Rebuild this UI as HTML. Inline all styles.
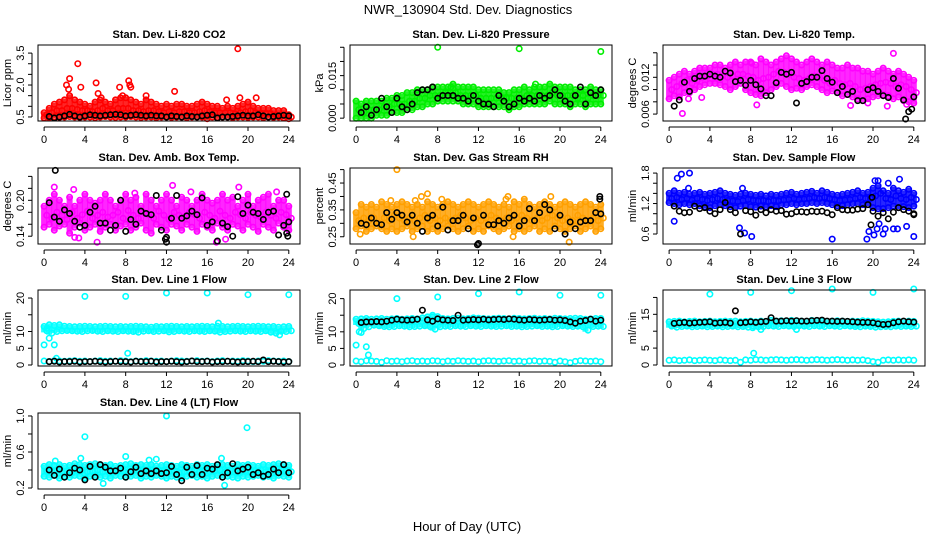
<!DOCTYPE html>
<html><head><meta charset="utf-8">
<style>
html,body{margin:0;padding:0;background:#fff;}
svg{display:block;font-family:"Liberation Sans",sans-serif;}
</style></head>
<body>
<svg id="chart" width="936" height="540" viewBox="0 0 936 540" xmlns="http://www.w3.org/2000/svg">
<rect width="936" height="540" fill="#fff"/>
<text x="468" y="14" font-size="13" text-anchor="middle">NWR_130904  Std. Dev. Diagnostics</text>
<text x="467" y="531" font-size="13" text-anchor="middle">Hour of Day (UTC)</text>
<g id="panels"></g>
</svg>
<script>
// ---------- data (colored bands sampled each 0.5 h from 0 to 24; black each 0.5 h from 0.5) ----------
const xTicks=[0,4,8,12,16,20,24];

const co2Hi=[0.7,0.9,1.1,1.2,1.3,1.5,1.3,1.2,1.1,1.0,1.2,1.3,1.2,1.1,1.3,1.4,1.4,1.3,1.2,1.1,1.3,1.2,1.1,1.0,1.1,1.0,1.1,1.1,1.0,1.0,1.1,1.2,1.1,1.0,1.0,0.9,1.0,0.9,1.0,1.1,1.2,1.0,0.9,0.9,0.9,0.8,0.8,0.8,0.6];
const co2Mid=[0.6,0.7,0.8,0.8,0.9,0.9,0.85,0.8,0.8,0.75,0.8,0.9,0.8,0.8,0.9,0.9,0.9,0.8,0.8,0.75,0.8,0.8,0.75,0.7,0.75,0.7,0.75,0.75,0.7,0.7,0.75,0.8,0.75,0.7,0.7,0.7,0.7,0.65,0.7,0.75,0.8,0.7,0.65,0.65,0.65,0.6,0.6,0.6,0.5];
const co2Lo=[0.45,0.47,0.5,0.48,0.5,0.52,0.5,0.48,0.5,0.5,0.47,0.5,0.52,0.5,0.48,0.5,0.5,0.52,0.5,0.48,0.5,0.5,0.47,0.5,0.5,0.48,0.5,0.5,0.47,0.5,0.5,0.5,0.42,0.5,0.48,0.5,0.5,0.47,0.5,0.5,0.48,0.5,0.5,0.47,0.5,0.48,0.5,0.45,0.42];
const co2Black=[0.52,0.45,0.5,0.55,0.62,0.55,0.5,0.55,0.6,0.58,0.55,0.58,0.6,0.62,0.6,0.55,0.58,0.6,0.58,0.55,0.58,0.55,0.55,0.5,0.55,0.52,0.5,0.55,0.52,0.5,0.55,0.58,0.6,0.45,0.5,0.5,0.52,0.55,0.58,0.55,0.55,0.6,0.55,0.5,0.52,0.55,0.58,0.55];
const co2OutX=[2.2,2.5,3.3,3.6,5.1,5.3,7.4,8.3,8.4,8.5,10,12.8,17.9,19,19.2,20.8,2.4,7.7,5.6];
const co2OutY=[2.0,2.3,3.0,1.9,2.1,1.6,1.9,2.2,2.0,1.9,1.5,1.7,1.3,3.7,1.4,1.4,1.8,1.5,1.4];

const prHi=[0.006,0.005,0.006,0.006,0.006,0.006,0.007,0.007,0.008,0.008,0.009,0.009,0.010,0.010,0.010,0.011,0.011,0.011,0.011,0.012,0.011,0.011,0.011,0.011,0.010,0.010,0.010,0.010,0.010,0.009,0.009,0.010,0.010,0.011,0.010,0.011,0.011,0.011,0.012,0.011,0.011,0.011,0.011,0.010,0.010,0.010,0.011,0.010,0.010];
const prMid=[0.003,0.002,0.003,0.003,0.003,0.004,0.004,0.005,0.005,0.005,0.006,0.006,0.007,0.007,0.008,0.008,0.008,0.009,0.009,0.009,0.008,0.008,0.008,0.008,0.007,0.007,0.007,0.007,0.007,0.007,0.007,0.007,0.007,0.008,0.008,0.008,0.008,0.008,0.009,0.008,0.008,0.008,0.008,0.007,0.008,0.007,0.008,0.008,0.008];
const prLo=[0.000,0.000,0.000,0.000,0.001,0.001,0.001,0.002,0.002,0.002,0.003,0.003,0.004,0.004,0.005,0.005,0.006,0.006,0.006,0.006,0.006,0.005,0.005,0.005,0.004,0.004,0.004,0.004,0.004,0.004,0.003,0.004,0.004,0.005,0.005,0.005,0.005,0.005,0.006,0.005,0.005,0.005,0.004,0.005,0.005,0.004,0.005,0.005,0.005];
const prBlack=[0.002,0.004,0.001,0.003,0.007,0.004,0.002,0.007,0.004,0.003,0.005,0.009,0.010,0.010,0.011,0.007,0.008,0.008,0.008,0.007,0.007,0.006,0.008,0.006,0.005,0.005,0.004,0.008,0.006,0.004,0.005,0.007,0.006,0.007,0.006,0.008,0.007,0.008,0.010,0.008,0.006,0.005,0.008,0.011,0.005,0.009,0.008,0.010];
const prOutX=[8,16,24,17.6,9.3];
const prOutY=[0.025,0.0245,0.0235,0.012,0.011];

const tHi=[0.0115,0.012,0.0125,0.013,0.0125,0.013,0.0135,0.0135,0.0135,0.014,0.014,0.0135,0.014,0.0145,0.014,0.0145,0.0145,0.014,0.015,0.0145,0.014,0.0145,0.015,0.0155,0.015,0.0145,0.014,0.0145,0.015,0.0145,0.014,0.0145,0.014,0.0135,0.0135,0.014,0.0135,0.0135,0.013,0.013,0.0125,0.013,0.0135,0.013,0.0125,0.013,0.0125,0.012,0.0115];
const tMid=[0.0100,0.0105,0.011,0.0115,0.011,0.0115,0.012,0.0122,0.0125,0.0125,0.0122,0.012,0.0122,0.0125,0.0125,0.0122,0.012,0.0115,0.0118,0.012,0.0125,0.013,0.0128,0.0125,0.012,0.0118,0.0115,0.0118,0.0122,0.012,0.0115,0.011,0.0115,0.011,0.0108,0.011,0.0105,0.010,0.0102,0.0105,0.0108,0.011,0.0112,0.011,0.0105,0.0108,0.0105,0.010,0.0095];
const tLo=[0.0085,0.009,0.0088,0.0095,0.0095,0.010,0.0105,0.0108,0.011,0.011,0.0108,0.0105,0.010,0.0105,0.011,0.010,0.0095,0.0092,0.0090,0.0095,0.010,0.0105,0.011,0.0105,0.010,0.0102,0.010,0.0105,0.0108,0.0105,0.010,0.0095,0.0098,0.0095,0.009,0.0092,0.0088,0.0085,0.0082,0.0085,0.0088,0.009,0.0092,0.009,0.0085,0.0088,0.0082,0.008,0.0078];
const tBlack=[0.0073,0.0083,0.0112,0.0097,0.0118,0.0122,0.0122,0.0125,0.0122,0.0120,0.0130,0.0127,0.0113,0.0115,0.0107,0.0115,0.0108,0.0101,0.0090,0.0090,0.0111,0.0128,0.0125,0.0128,0.0078,0.0110,0.0113,0.0120,0.0120,0.0131,0.0118,0.0112,0.0095,0.0105,0.0092,0.0097,0.0082,0.0082,0.0100,0.0103,0.0097,0.0090,0.0087,0.0118,0.0102,0.0083,0.0064,0.0088];
const tOutX=[1.3,8.6,22,8.1,17.8,21.4,23.3,1.9,3.2,19.5];
const tOutY=[0.0061,0.0075,0.0159,0.0143,0.0074,0.0073,0.0076,0.0085,0.0087,0.0078];
const tBlkOutX=[23.2,23.8];
const tBlkOutY=[0.0052,0.0068];

const aHi=[0.19,0.20,0.21,0.20,0.19,0.205,0.19,0.20,0.21,0.20,0.195,0.20,0.21,0.20,0.19,0.20,0.21,0.20,0.205,0.19,0.21,0.20,0.19,0.20,0.21,0.20,0.19,0.205,0.20,0.19,0.20,0.21,0.20,0.195,0.20,0.21,0.20,0.205,0.19,0.20,0.21,0.19,0.20,0.205,0.21,0.19,0.20,0.20,0.19];
const aMid=[0.175,0.17,0.18,0.175,0.168,0.18,0.17,0.176,0.182,0.17,0.175,0.18,0.172,0.175,0.18,0.17,0.183,0.175,0.17,0.18,0.176,0.17,0.182,0.175,0.168,0.18,0.175,0.172,0.18,0.176,0.17,0.18,0.175,0.17,0.182,0.175,0.17,0.18,0.176,0.17,0.18,0.175,0.172,0.18,0.175,0.17,0.18,0.176,0.17];
const aLo=[0.155,0.16,0.15,0.157,0.16,0.145,0.155,0.162,0.15,0.155,0.16,0.148,0.155,0.16,0.15,0.157,0.16,0.15,0.155,0.162,0.15,0.145,0.16,0.155,0.15,0.16,0.157,0.15,0.16,0.155,0.148,0.16,0.155,0.15,0.162,0.155,0.15,0.16,0.157,0.15,0.16,0.155,0.148,0.16,0.155,0.15,0.162,0.155,0.15];
const aBlack=[0.196,0.172,0.165,0.184,0.178,0.165,0.155,0.158,0.180,0.190,0.162,0.162,0.150,0.158,0.200,0.148,0.168,0.160,0.182,0.178,0.176,0.208,0.150,0.138,0.170,0.208,0.170,0.174,0.182,0.176,0.204,0.158,0.164,0.132,0.162,0.156,0.140,0.206,0.178,0.192,0.180,0.178,0.168,0.180,0.182,0.142,0.158,0.164];
const aOutX=[1.0,2.9,5.2,12.6,19.1,3.0,3.4,16.9,17.8,8.9,14.4,22.8];
const aOutY=[0.222,0.218,0.13,0.225,0.222,0.138,0.137,0.13,0.135,0.212,0.214,0.214];
const aBlkOutX=[1.1,11.9,12.0,23.9,23.8,23.8];
const aBlkOutY=[0.25,0.135,0.13,0.14,0.145,0.21];

const rHi=[0.34,0.37,0.36,0.37,0.36,0.38,0.37,0.36,0.37,0.38,0.37,0.36,0.37,0.36,0.38,0.37,0.36,0.37,0.38,0.37,0.36,0.37,0.38,0.37,0.36,0.37,0.38,0.37,0.36,0.37,0.36,0.38,0.37,0.39,0.37,0.36,0.37,0.38,0.37,0.36,0.37,0.38,0.37,0.36,0.37,0.38,0.37,0.36,0.37];
const rMid=[0.31,0.32,0.31,0.32,0.30,0.32,0.31,0.33,0.32,0.31,0.32,0.31,0.32,0.33,0.31,0.32,0.31,0.32,0.31,0.32,0.33,0.32,0.31,0.32,0.31,0.32,0.33,0.32,0.31,0.32,0.31,0.32,0.33,0.32,0.31,0.32,0.31,0.32,0.33,0.32,0.31,0.32,0.31,0.33,0.32,0.31,0.32,0.31,0.32];
const rLo=[0.28,0.29,0.27,0.28,0.29,0.28,0.27,0.28,0.27,0.28,0.29,0.27,0.28,0.29,0.27,0.28,0.27,0.28,0.29,0.28,0.27,0.28,0.29,0.27,0.28,0.27,0.29,0.28,0.27,0.28,0.29,0.27,0.28,0.27,0.28,0.29,0.27,0.28,0.27,0.29,0.28,0.27,0.28,0.29,0.27,0.28,0.29,0.27,0.28];
const rBlack=[0.300,0.295,0.320,0.300,0.295,0.340,0.315,0.340,0.330,0.305,0.330,0.300,0.270,0.320,0.330,0.290,0.360,0.275,0.310,0.310,0.330,0.280,0.320,0.225,0.330,0.295,0.295,0.310,0.300,0.320,0.330,0.290,0.310,0.355,0.310,0.340,0.370,0.350,0.280,0.330,0.260,0.305,0.280,0.305,0.310,0.310,0.340,0.335];
const rOutX=[0.4,4,6.4,7,8.4,14.9,19.1,20.9,14.7,5.6,15.4,3.4,5.8];
const rOutY=[0.26,0.50,0.40,0.41,0.39,0.40,0.40,0.23,0.39,0.25,0.25,0.385,0.385];
const rBlkOutX=[23.9,23.9,11.9];
const rBlkOutY=[0.40,0.39,0.22];

const sHi=[1.40,1.45,1.40,1.42,1.38,1.40,1.42,1.38,1.40,1.42,1.45,1.40,1.38,1.36,1.38,1.40,1.38,1.36,1.38,1.35,1.38,1.36,1.38,1.40,1.42,1.38,1.40,1.42,1.44,1.40,1.45,1.42,1.38,1.36,1.38,1.40,1.42,1.45,1.40,1.42,1.50,1.55,1.45,1.40,1.50,1.45,1.42,1.48,1.40];
const sMid=[1.30,1.32,1.28,1.30,1.27,1.30,1.28,1.26,1.28,1.30,1.28,1.26,1.25,1.24,1.26,1.28,1.26,1.25,1.26,1.24,1.26,1.25,1.27,1.28,1.30,1.28,1.29,1.30,1.32,1.30,1.32,1.30,1.28,1.26,1.27,1.28,1.30,1.32,1.30,1.30,1.35,1.40,1.30,1.28,1.35,1.30,1.28,1.32,1.28];
const sLo=[1.22,1.20,1.18,1.20,1.18,1.20,1.16,1.14,1.12,1.16,1.18,1.16,1.14,1.12,1.15,1.16,1.14,1.13,1.15,1.14,1.16,1.14,1.18,1.18,1.20,1.18,1.20,1.20,1.22,1.20,1.22,1.20,1.18,1.16,1.16,1.18,1.20,1.20,1.18,1.18,1.12,1.10,1.10,1.12,1.15,1.12,1.14,1.12,1.15];
const sBlack=[1.15,1.05,1.02,1.03,1.15,1.10,1.12,1.05,1.00,1.08,1.22,1.08,1.02,0.60,1.06,1.04,0.97,1.08,1.02,1.08,1.05,1.06,0.99,1.00,1.04,1.04,1.03,1.05,1.04,1.05,1.02,0.98,1.12,1.08,1.07,1.07,1.09,1.10,1.18,1.05,0.95,1.02,0.90,1.03,1.12,1.08,1.05,1.00];
const sOutX=[0.5,0.8,1.2,2.0,6.9,7.4,8.1,16,19.4,19.6,20.1,20.4,20.6,21,21.2,22,22.4,23.3,24,20.2,20.5,21.5,22.6,1.9,7.2];
const sOutY=[0.85,1.7,1.78,1.8,0.72,0.62,0.55,0.5,0.5,0.65,0.58,0.7,0.8,0.6,0.7,0.7,0.7,0.75,0.55,1.65,1.65,1.6,1.68,1.5,1.5];
const sBlkOutX=[19.9,19.8,24];
const sBlkOutY=[1.32,0.78,0.98];

const l1Hi=[11.5,12,11.8,12,11.6,11.5,11.4,11.5,11.6,11.5,11.4,11.5,11.6,11.5,11.4,11.5,11.4,11.5,11.6,11.5,11.4,11.3,11.5,11.4,11.5,11.6,11.5,11.4,11.5,11.4,11.5,11.6,11.5,11.4,11.6,11.5,11.4,11.5,11.6,11.5,11.4,11.5,11.6,11.5,11.4,11.5,11.3,11.4,11.5];
const l1Lo=[10.2,9.5,10,10.2,10.3,10.2,10.1,10,10.2,10.3,10.1,10,10.2,10.1,10,10.2,10.1,10,9.8,10.1,10.2,10,10.1,10.2,9.9,10,10.2,10.1,10,10.2,10.1,10,10.2,10.1,9.8,10,10.1,10.2,10.1,10,10.2,10.1,10,10.2,9.8,9.5,10.1,10,10.2];
const l1Bottom=[1.2,1.0,1.3,1.2,1.1,1.2,1.3,1.1,1.2,1.0,1.2,1.3,1.1,1.2,1.1,1.3,1.2,1.0,1.2,1.1,1.3,1.2,1.1,1.2,1.0,1.2,1.3,1.2,1.1,1.2,1.3,1.1,1.2,1.0,1.2,1.3,1.1,1.2,1.1,1.3,1.2,1.0,1.2,1.1,1.3,1.2,1.1,1.2,1.0];
const l1Black=[1.0,1.1,0.9,1.0,1.0,1.1,0.9,1.0,1.0,1.1,1.0,0.9,1.0,1.1,1.0,1.0,0.9,1.1,1.0,1.0,1.1,0.9,1.0,1.0,1.1,1.0,0.9,1.0,1.2,1.0,1.0,1.1,0.9,1.0,1.0,1.1,1.0,0.9,1.0,1.0,1.1,1.0,1.5,1.0,1.1,1.0,0.9,1.0];
const l1OutX=[4,8,12,16,20,24,0,0.5,1,8.2,1.2,17.1,23.1,0.3];
const l1OutY=[20.5,20.5,21.5,21.5,21,21,6,8,6,3.5,2,12.5,9,11];

const l2Hi=[13.8,13.9,14,13.8,13.9,14,13.8,13.9,14,13.8,13.9,14,13.9,14.2,14.5,15,14.6,14,13.9,14,14.1,13.9,14,14.2,14.1,14,13.9,14,14.1,14,13.9,14.1,14,13.9,14,14.1,13.9,14,13.9,14.1,14,13.9,14,14.1,14,13.8,13.9,14,14];
const l2Lo=[12.5,11,11.5,12,11.8,11.6,11.5,11.6,11.8,11.7,11.5,11.6,11.7,11.8,11.6,10.8,11.5,11.7,11.6,11.8,11.7,11.6,11.8,11.7,11.6,11.8,11.7,11.6,11.7,11.8,11.6,11.7,11.5,11.6,11.7,11.8,11.6,11.7,11.5,11.6,11.8,11.7,11.6,11.7,11.5,10.5,11.6,11.7,11.6];
const l2Bottom=[1.2,1.0,1.3,1.2,1.1,0.8,1.3,1.1,1.2,1.0,1.2,1.3,1.1,1.2,1.1,1.3,1.2,1.0,1.2,1.1,1.3,1.2,1.1,1.2,1.0,1.2,1.3,1.2,1.1,1.2,1.3,1.1,1.2,1.0,1.2,1.3,1.1,1.2,1.1,0.8,1.2,1.0,0.7,1.1,1.3,1.2,1.1,1.2,1.0];
const l2Black=[12.8,13.0,13.0,13.1,13.0,13.2,13.5,13.8,13.6,13.5,13.6,13.8,16.5,13.6,13.2,13.9,13.6,13.5,13.4,15.0,13.5,13.6,13.7,13.6,13.8,13.6,13.7,13.8,13.7,13.9,13.8,13.6,13.5,13.7,13.6,13.5,13.6,13.7,13.5,13.6,13.4,13.0,12.6,13.2,13.4,13.8,13.2,13.5];
const l2OutX=[4,8,12,16,20,24,0,1,1.2,0.3,0.5,7.5];
const l2OutY=[20,20.5,21.5,22,21,21,6,5.5,3,10,9.8,14.5];

const l3Hi=[12.8,12.9,13,12.8,12.9,13,12.8,12.9,13,12.8,12.9,13,12.9,13,12.8,12.9,13,12.8,13,12.9,13.2,13,13.1,13,13.2,13.1,13,12.9,13.2,13.1,13,12.9,13,13.1,13,12.9,13,12.9,13.1,13,12.9,12.8,12.7,12.8,12.9,13,12.9,13,12.9];
const l3Lo=[11.5,11.2,11.4,11.5,11.3,11.4,11.5,11.3,11.4,11.5,11.3,11.4,11.5,11.3,11.4,11.2,11.5,11.3,11.4,11.6,11.5,11.4,11.6,11.5,11.4,11.6,11.5,11.4,11.6,11.5,11.4,11.6,11.5,11.4,11.6,11.5,11.4,11.3,11.5,11.4,11.2,11.3,11.4,11.3,11.5,11.4,11.5,11.4,11.5];
const l3Bottom=[1.4,1.5,1.3,1.4,1.5,1.3,1.4,1.5,1.4,1.3,1.5,1.4,1.3,1.4,0.8,1.5,1.4,1.6,1.5,1.4,1.5,1.6,1.5,1.4,1.5,1.6,1.5,1.4,1.5,1.6,1.5,1.4,1.5,1.6,1.5,1.4,1.5,1.4,1.5,1.3,1.0,0.8,1.4,1.5,1.4,1.5,1.4,1.5,1.4];
const l3Black=[12.3,12.5,12.6,12.4,12.5,12.6,12.7,12.8,12.4,12.5,12.6,12.4,16.0,12.5,12.6,12.8,12.6,12.8,12.9,14.0,13.0,13.0,13.1,13.0,13.1,13.0,13.0,13.1,13.2,13.3,13.0,13.0,12.9,13.0,12.9,12.8,12.7,12.6,12.6,12.5,12.2,12.0,12.1,12.5,12.8,13.0,12.8,12.7];
const l3OutX=[4,8,12,16,20,24,8.3,8.2,9,12.5];
const l3OutY=[21,21.5,22,22.5,21.5,22.5,3.5,11,10.5,10.5];

const l4Hi=[0.44,0.46,0.45,0.46,0.44,0.45,0.47,0.46,0.45,0.46,0.47,0.46,0.45,0.46,0.44,0.45,0.46,0.47,0.45,0.46,0.45,0.46,0.44,0.45,0.46,0.45,0.44,0.46,0.45,0.44,0.46,0.45,0.46,0.44,0.45,0.46,0.45,0.44,0.46,0.45,0.46,0.45,0.44,0.46,0.45,0.46,0.47,0.46,0.45];
const l4Mid=[0.39,0.38,0.40,0.38,0.39,0.37,0.39,0.40,0.38,0.39,0.40,0.38,0.39,0.38,0.40,0.39,0.38,0.39,0.40,0.38,0.39,0.38,0.40,0.39,0.38,0.39,0.37,0.38,0.39,0.40,0.38,0.39,0.38,0.39,0.40,0.38,0.39,0.38,0.37,0.39,0.38,0.39,0.40,0.38,0.39,0.38,0.40,0.39,0.38];
const l4Lo=[0.33,0.32,0.34,0.31,0.33,0.32,0.34,0.33,0.31,0.33,0.34,0.32,0.33,0.31,0.34,0.33,0.32,0.33,0.34,0.31,0.33,0.32,0.34,0.33,0.31,0.33,0.32,0.31,0.33,0.34,0.32,0.33,0.31,0.33,0.34,0.32,0.33,0.32,0.31,0.33,0.32,0.33,0.34,0.32,0.33,0.31,0.34,0.33,0.32];
const l4Black=[0.40,0.34,0.41,0.32,0.37,0.42,0.40,0.29,0.44,0.32,0.46,0.43,0.39,0.39,0.42,0.32,0.38,0.43,0.36,0.39,0.36,0.39,0.36,0.37,0.44,0.35,0.28,0.43,0.35,0.45,0.35,0.42,0.41,0.46,0.32,0.37,0.47,0.39,0.41,0.43,0.35,0.37,0.33,0.35,0.41,0.37,0.46,0.37];
const l4OutX=[4,12,19.9,8,5.8,17.7,1.1,3.6,10.3,11,17.4];
const l4OutY=[0.77,1.0,0.87,0.55,0.25,0.23,0.50,0.53,0.51,0.52,0.53];

// ---------- layout ----------
const boxRight=[300,612,925];
const boxTop=[45,168,290,413];
const boxW=262, boxH=76;
const xMin=-0.6, xMax=25.1;
const NS="http://www.w3.org/2000/svg";
const root=document.getElementById('panels');

function mk(tag,attrs,parent){const e=document.createElementNS(NS,tag);for(const k in attrs)e.setAttribute(k,attrs[k]);(parent||root).appendChild(e);return e;}

const panels=[
 {name:'co2',col:0,row:0,title:'Stan. Dev. Li-820 CO2',ylab:'Licor ppm',yb:0.31,yt:3.88,ticks:[0.5,1,1.5,2,2.5,3,3.5],labels:['0.5','','','2.0','','','3.5'],color:'#ff0000',bands:[co2Hi,co2Mid,co2Lo],range:[co2Hi,co2Lo],ox:co2OutX,oy:co2OutY,black:co2Black},
 {name:'pressure',col:1,row:0,title:'Stan. Dev. Li-820 Pressure',ylab:'kPa',yb:-0.001,yt:0.0258,ticks:[0,0.005,0.01,0.015,0.02,0.025],labels:['0.000','','','0.015','',''],color:'#00ee00',bands:[prHi,prMid,prLo],range:[prHi,prLo],ox:prOutX,oy:prOutY,black:prBlack},
 {name:'temp',col:2,row:0,title:'Stan. Dev. Li-820 Temp.',ylab:'degrees C',yb:0.00487,yt:0.01727,ticks:[0.006,0.008,0.010,0.012,0.014,0.016],labels:['0.006','','','0.012','',''],color:'#ff00ff',bands:[tHi,tMid,tLo],range:[tHi,tLo],ox:tOutX,oy:tOutY,black:tBlack,bx:tBlkOutX,by:tBlkOutY},
 {name:'amb-box-temp',col:0,row:1,title:'Stan. Dev. Amb. Box Temp.',ylab:'degrees C',yb:0.127,yt:0.254,ticks:[0.14,0.16,0.18,0.20,0.22,0.24],labels:['0.14','','','0.20','',''],color:'#ff00ff',bands:[aHi,aMid,aLo],range:[aHi,aLo],ox:aOutX,oy:aOutY,black:aBlack,bx:aBlkOutX,by:aBlkOutY},
 {name:'gas-rh',col:1,row:1,title:'Stan. Dev. Gas Stream RH',ylab:'percent',yb:0.223,yt:0.506,ticks:[0.25,0.30,0.35,0.40,0.45,0.50],labels:['0.25','','0.35','','0.45',''],color:'#ffa000',bands:[rHi,rMid,rLo],range:[rHi,rLo],ox:rOutX,oy:rOutY,black:rBlack,bx:rBlkOutX,by:rBlkOutY},
 {name:'sample-flow',col:2,row:1,title:'Stan. Dev. Sample Flow',ylab:'ml/min',yb:0.403,yt:1.9,ticks:[0.6,0.8,1.0,1.2,1.4,1.6,1.8],labels:['0.6','','','1.2','','','1.8'],color:'#0000ff',bands:[sHi,sMid,sLo],range:[sHi,sLo],ox:sOutX,oy:sOutY,black:sBlack,bx:sBlkOutX,by:sBlkOutY},
 {name:'line1-flow',col:0,row:2,title:'Stan. Dev. Line 1 Flow',ylab:'ml/min',yb:-0.3,yt:22.4,ticks:[0,5,10,15,20],labels:['0','5','10','','20'],color:'#00ffff',bands:[l1Hi,l1Lo,l1Bottom],range:[l1Hi,l1Lo],ox:l1OutX,oy:l1OutY,black:l1Black},
 {name:'line2-flow',col:1,row:2,title:'Stan. Dev. Line 2 Flow',ylab:'ml/min',yb:-0.3,yt:22.6,ticks:[0,5,10,15,20],labels:['0','5','10','','20'],color:'#00ffff',bands:[l2Hi,l2Lo,l2Bottom],range:[l2Hi,l2Lo],ox:l2OutX,oy:l2OutY,black:l2Black},
 {name:'line3-flow',col:2,row:2,title:'Stan. Dev. Line 3 Flow',ylab:'ml/min',yb:-0.3,yt:22.2,ticks:[0,5,10,15,20],labels:['0','5','','15',''],color:'#00ffff',bands:[l3Hi,l3Lo,l3Bottom],range:[l3Hi,l3Lo],ox:l3OutX,oy:l3OutY,black:l3Black},
 {name:'line4-flow',col:0,row:3,title:'Stan. Dev. Line 4 (LT) Flow',ylab:'ml/min',yb:0.189,yt:1.033,ticks:[0.2,0.4,0.6,0.8,1.0],labels:['0.2','','0.6','','1.0'],color:'#00ffff',bands:[l4Hi,l4Mid,l4Lo],range:[l4Hi,l4Lo],ox:l4OutX,oy:l4OutY,black:l4Black}
];

function pt(g,x,y,color){
  return mk('circle',{cx:x.toFixed(1),cy:y.toFixed(1),r:2.7,fill:'none',stroke:color,'stroke-width':1.6},g);
}

panels.forEach(p=>{
  const R=boxRight[p.col], L=R-boxW, T=boxTop[p.row], B=T+boxH;
  const sx=v=>L+(v-xMin)/(xMax-xMin)*boxW;
  const sy=v=>B-(v-p.yb)/(p.yt-p.yb)*boxH;
  const g=mk('g',{});
  
  
  const t=mk('text',{x:(L+R)/2,y:T-7,'font-size':11,'font-weight':'bold','text-anchor':'middle'},g);
  t.textContent=p.title;
  
  
  const pg=mk('g',{},g);
  
  
  // dense-band range bars
  const hiA=p.range[0], loA=p.range[1];
  hiA.forEach((v,i)=>{
    const x=sx(i*0.5), y1=sy(v), y2=sy(loA[i]);
    const r=mk('rect',{x:(x-3).toFixed(1),y:(y1-1.5).toFixed(1),width:6,height:(y2-y1+3).toFixed(1),fill:p.color,opacity:0.85},pg);
    
    
  });
  p.bands.forEach((arr,bi)=>{
    arr.forEach((v,i)=>{
      const c=pt(pg,sx(i*0.5+(bi===1?0.25:0)),sy(v),p.color);
      
      
    });
  });
  p.ox.forEach((x,i)=>{
    const c=pt(pg,sx(x),sy(p.oy[i]),p.color);
    
    
  });
  const bg=mk('g',{},g);
  
  
  p.black.forEach((v,i)=>{
    const c=pt(bg,sx((i+1)*0.5),sy(v),'#000');
    
    
  });
  if(p.bx){p.bx.forEach((x,i)=>{
    const c=pt(bg,sx(x),sy(p.by[i]),'#000');
    
    
  });}
  const box=mk('rect',{x:L,y:T,width:boxW,height:boxH,fill:'none',stroke:'#000','stroke-width':1},g);
  
  
  const xa=mk('g',{stroke:'#000','stroke-width':1},g);
  
  
  const ay=B+6;
  mk('line',{x1:sx(xTicks[0]),x2:sx(xTicks[xTicks.length-1]),y1:ay,y2:ay},xa);
  xTicks.forEach(v=>{
    mk('line',{x1:sx(v),x2:sx(v),y1:ay,y2:ay+4},xa);
    const tl=mk('text',{x:sx(v),y:ay+16,'font-size':11,'text-anchor':'middle',stroke:'none',fill:'#000'},xa);
    tl.textContent=String(v);
    
    
  });
  const ya=mk('g',{stroke:'#000','stroke-width':1},g);
  
  
  const ax=L-6;
  mk('line',{x1:ax,x2:ax,y1:sy(p.ticks[0]),y2:sy(p.ticks[p.ticks.length-1])},ya);
  p.ticks.forEach((v,i)=>{
    mk('line',{x1:ax,x2:ax-4,y1:sy(v),y2:sy(v)},ya);
    if(p.labels[i]){
      const tx=ax-8, ty=sy(v);
      const tl=mk('text',{x:tx,y:ty,'font-size':11,'text-anchor':'middle',stroke:'none',fill:'#000',transform:`rotate(-90 ${tx} ${ty})`},ya);
      tl.textContent=p.labels[i];
      
      
    }
  });
  const yl=mk('text',{x:L-27,y:(T+B)/2,'font-size':11,'text-anchor':'middle',transform:`rotate(-90 ${L-27} ${(T+B)/2})`},g);
  yl.textContent=p.ylab;
  
  
});
</script>
</body></html>
